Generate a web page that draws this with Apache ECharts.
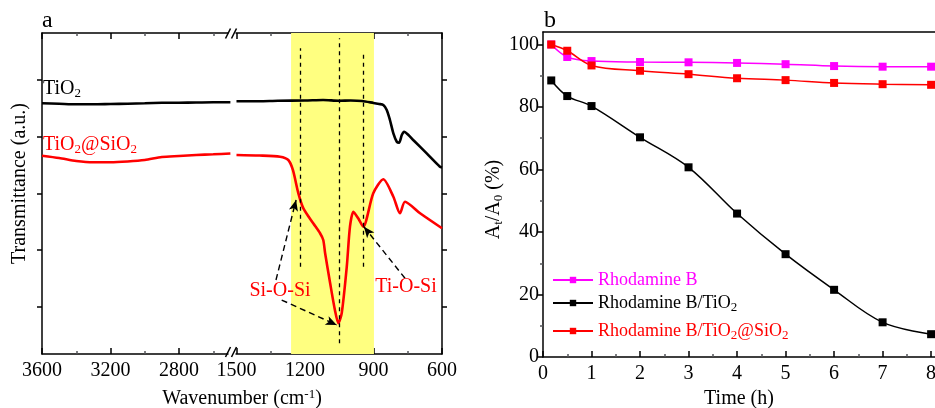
<!DOCTYPE html>
<html>
<head>
<meta charset="utf-8">
<script src="https://cdn.jsdelivr.net/npm/echarts@6/dist/echarts.min.js"></script>
<style>
    html, body {margin: 0; padding: 0; background: #fff;}
    #chart {width: 935px; height: 408px;}
</style>
</head>
<body>
<div id="chart"></div>
<script>
// ---- panel a: FTIR spectra (transmittance in a.u., one unit = one y tick) ----
var tio2WnLeft = [3600, 3500, 3400, 3300, 3200, 3100, 3000, 2900, 2800, 2700, 2600, 2500];
var tio2TLeft = [3.587, 3.579, 3.570, 3.570, 3.575, 3.579, 3.587, 3.596, 3.598, 3.601, 3.605, 3.605];
var tio2WnRight = [1500, 1400, 1318, 1200, 1121, 1050, 1000, 950, 900, 875, 857, 842, 828, 813, 798, 788, 776, 766, 747, 726, 667, 609, 600];
var tio2TRight = [3.623, 3.624, 3.633, 3.637, 3.646, 3.633, 3.637, 3.628, 3.593, 3.575, 3.557, 3.469, 3.293, 3.058, 2.910, 2.892, 3.028, 3.086, 3.028, 2.940, 2.705, 2.469, 2.455];

var tsWnLeft = [3600, 3500, 3400, 3300, 3200, 3100, 3000, 2900, 2800, 2700, 2600, 2500];
var tsTLeft = [2.663, 2.623, 2.570, 2.547, 2.547, 2.561, 2.587, 2.640, 2.658, 2.676, 2.688, 2.702];
var tsWnRight = [1500, 1400, 1309, 1273, 1253, 1229, 1207, 1164, 1134, 1120, 1112, 1090, 1069, 1054, 1039, 1017, 1003, 988, 967, 945, 901, 857, 813, 784, 762, 696, 600];
var tsTRight = [2.676, 2.667, 2.646, 2.587, 2.411, 2.0, 1.735, 1.471, 1.295, 1.176, 0.947, 0.418, -0.058, -0.293, -0.111, 0.705, 1.411, 1.675, 1.559, 1.411, 2.0, 2.247, 1.940, 1.647, 1.852, 1.647, 1.383];

var wnMajor = [3600, 3200, 2800, 1500, 1200, 900, 600];
var wnMinor = [3400, 3000, 2600, 1350, 1050, 750];
var bandWn = [1261, 898];
var dashWn = [1219, 1050, 945];
var dashTop = [4.557, 4.733, 4.515];
var dashBottom = [0.705, -0.645, 0.705];
// arrows: [startWn, startT, endWn, endT]
var arrows = [
    [1327, 0.471, 1239, 1.882],
    [1302, 0.118, 1061, -0.322],
    [762, 0.501, 942, 1.411]
];

// ---- panel b: photodegradation ----
var times = [0.17, 0.5, 1, 2, 3, 4, 5, 6, 7, 8];
var rhB = [100, 96.0, 94.7, 94.4, 94.3, 94.1, 93.7, 93.1, 92.9, 92.9];
var rhBTiO2 = [88.5, 83.5, 80.3, 70.3, 60.7, 45.9, 32.9, 21.5, 11.1, 7.3];
var rhBTiO2SiO2 = [100, 98.0, 93.3, 91.6, 90.5, 89.2, 88.6, 87.7, 87.3, 87.1];
var timeTicks = [0, 1, 2, 3, 4, 5, 6, 7, 8];
var timeMinor = [0.5, 1.5, 2.5, 3.5, 4.5, 5.5, 6.5, 7.5];
var pctTicks = [0, 20, 40, 60, 80, 100];
var pctMinor = [10, 30, 50, 70, 90];

var FONT = 'Liberation Serif';
var CSSFONT = '"Liberation Serif", serif';

// broken wavenumber axis: 3600-2500 at 400/major, 1500-600 at 300/major
var RIGHT_START = 2.839;
function pos(wn) {
    return wn >= 2500 ? (3600 - wn) / 400 : RIGHT_START + (1500 - wn) / 300;
}
function wnOf(u) {
    return u < 2.8 ? 3600 - u * 400 : 1500 - (u - RIGHT_START) * 300;
}
function pairs(xs, ys, fx) {
    return xs.map(function (x, i) { return [fx ? fx(x) : x, ys[i]]; });
}
// 'TiO2' -> rich string with subscript 2
function subText(s) {
    return ('{m|' + s.replace(/O2/g, 'O}{sub|2}{m|') + '}').replace(/\{m\|\}/g, '');
}

var chart = echarts.init(document.getElementById('chart'));

var axisLine = {show: true, onZero: false, lineStyle: {color: '#000', width: 1.5}};
function richFor(color, size) {
    return {
        m: {fontSize: size, fontFamily: FONT, color: color},
        t: {fontSize: size, fontFamily: FONT, color: color},
        sub: {fontSize: 13, fontFamily: FONT, color: color, padding: [9, 0, 0, 0]},
        sup: {fontSize: 13, fontFamily: FONT, color: color, padding: [0, 0, 9, 0]}
    };
}
var labelStyle = {
    margin: 7, fontSize: 20, fontFamily: FONT, color: '#000', rich: richFor('#000', 20)
};

function tickAxis(opt) {
    // helper for mirror / minor tick axes
    return Object.assign({
        type: 'value',
        axisLine: {show: false, onZero: false},
        axisLabel: {show: false},
        splitLine: {show: false}
    }, opt);
}

var xAxes = [
    {
        gridIndex: 0, type: 'value', min: 0, max: pos(600), position: 'bottom',
        axisLine: axisLine,
        axisTick: {inside: true, length: 6, lineStyle: {width: 1.5}, customValues: wnMajor.map(pos)},
        axisLabel: Object.assign({
            customValues: wnMajor.map(pos),
            formatter: function (v) { return '{t|' + Math.round(wnOf(v)) + '}'; }
        }, labelStyle),
        splitLine: {show: false},
        name: '{m|Wavenumber (cm}{sup|-1}{m|)}', nameLocation: 'middle', nameGap: 34,
        nameTextStyle: {fontSize: 20, fontFamily: FONT, color: '#000', rich: richFor('#000', 20)}
    },
    tickAxis({gridIndex: 0, min: 0, max: pos(600), position: 'top', axisLine: axisLine,
        axisTick: {inside: true, length: 6, lineStyle: {width: 1.5}, customValues: wnMajor.map(pos)}}),
    tickAxis({gridIndex: 0, min: 0, max: pos(600), position: 'bottom',
        axisTick: {inside: true, length: 3, lineStyle: {width: 1.5}, customValues: wnMinor.map(pos)}}),
    tickAxis({gridIndex: 0, min: 0, max: pos(600), position: 'top',
        axisTick: {inside: true, length: 3, lineStyle: {width: 1.5}, customValues: wnMinor.map(pos)}}),
    {
        gridIndex: 1, type: 'value', min: 0, max: 8.08, position: 'bottom',
        axisLine: axisLine,
        axisTick: {inside: true, length: 6, lineStyle: {width: 1.5}, customValues: timeTicks},
        axisLabel: Object.assign({
            customValues: timeTicks,
            formatter: function (v) { return '{t|' + v + '}'; }
        }, labelStyle),
        splitLine: {show: false},
        name: 'Time (h)', nameLocation: 'middle', nameGap: 29,
        nameTextStyle: {fontSize: 20, fontFamily: FONT, color: '#000'}
    },
    tickAxis({gridIndex: 1, min: 0, max: 8.08, position: 'bottom',
        axisTick: {inside: true, length: 3, lineStyle: {width: 1.5}, customValues: timeMinor}}),
    tickAxis({gridIndex: 1, min: 0, max: 8.08, position: 'top', axisLine: axisLine, axisTick: {show: false}})
];

var yAxes = [
    {
        gridIndex: 0, type: 'value', min: -0.834, max: 4.827, position: 'left',
        axisLine: axisLine,
        axisTick: {inside: false, length: 5, lineStyle: {width: 1.5}, customValues: [0, 1, 2, 3, 4]},
        axisLabel: {show: false},
        splitLine: {show: false},
        name: 'Transmittance (a.u.)', nameLocation: 'middle', nameGap: 12, nameRotate: 90,
        nameTextStyle: {fontSize: 20, fontFamily: FONT, color: '#000', padding: [0, 0, 0, 20]}
    },
    tickAxis({gridIndex: 0, min: -0.834, max: 4.827, position: 'right', axisLine: axisLine,
        axisTick: {inside: false, length: 5, lineStyle: {width: 1.5}, customValues: [0, 1, 2, 3, 4]}}),
    {
        gridIndex: 1, type: 'value', min: 0, max: 104, position: 'left',
        axisLine: axisLine,
        axisTick: {inside: false, length: 5, lineStyle: {width: 1.5}, customValues: pctTicks},
        axisLabel: Object.assign({
            customValues: pctTicks,
            formatter: function (v) { return '{t|' + v + '}'; }
        }, labelStyle, {margin: 4}),
        splitLine: {show: false},
        name: '{m|A}{sub|t}{m|/A}{sub|0}{m| (%)}', nameLocation: 'middle', nameGap: 38, nameRotate: 90,
        nameTextStyle: {fontSize: 20, fontFamily: FONT, color: '#000', rich: richFor('#000', 20), padding: [0, 10, 0, 0]}
    },
    tickAxis({gridIndex: 1, min: 0, max: 104, position: 'left',
        axisTick: {inside: false, length: 3, lineStyle: {width: 1.5}, customValues: pctMinor}})
];

function spectrum(name, color, data) {
    return {
        name: name, type: 'line', xAxisIndex: 0, yAxisIndex: 0, z: 3,
        data: data, smooth: 0.25, showSymbol: false, symbol: 'none',
        lineStyle: {color: color, width: 2.6}, silent: true
    };
}

function kinetics(name, color, values) {
    return {
        name: name, type: 'line', xAxisIndex: 4, yAxisIndex: 2, z: 3,
        data: pairs(times, values), smooth: 0.35,
        symbol: 'rect', symbolSize: 8,
        itemStyle: {color: color}, lineStyle: {color: color, width: 1.5}
    };
}

var dashed = {type: [4, 4], color: '#000', width: 1.3};
var legendColors = ['#ff00ff', '#000', '#ff0000'];

var option = {
    animation: false,
    backgroundColor: '#fff',
    textStyle: {fontFamily: FONT},
    grid: [
        {left: 42, width: 400, top: 33, bottom: 54, outerBoundsMode: 'none', containLabel: false},
        {left: 543, right: 0, top: 32, bottom: 51, outerBoundsMode: 'none', containLabel: false}
    ],
    xAxis: xAxes,
    yAxis: yAxes,
    legend: [
        {data: ['Rhodamine B'], left: 547, top: 266},
        {data: ['Rhodamine B/TiO2'], left: 547, top: 289},
        {data: ['Rhodamine B/TiO2@SiO2'], left: 547, top: 317}
    ].map(function (lg, i) {
        return Object.assign(lg, {
            orient: 'horizontal', itemWidth: 40, itemHeight: 8, selectedMode: false,
            textStyle: {fontSize: 18, fontFamily: FONT, color: legendColors[i], rich: richFor(legendColors[i], 18)},
            formatter: subText
        });
    }),
    series: [
        {
            name: 'band', type: 'line', xAxisIndex: 0, yAxisIndex: 0, z: 1, data: [], silent: true,
            markArea: {
                silent: true,
                itemStyle: {color: '#ffff80', opacity: 1},
                data: [[{xAxis: pos(bandWn[0])}, {xAxis: pos(bandWn[1])}]]
            }
        },
        {
            name: 'guides', type: 'line', xAxisIndex: 0, yAxisIndex: 0, z: 2, data: [], silent: true,
            markLine: {
                silent: true, symbol: ['none', 'none'], label: {show: false},
                lineStyle: dashed,
                data: dashWn.map(function (w, i) {
                    return [{coord: [pos(w), dashBottom[i]]}, {coord: [pos(w), dashTop[i]]}];
                })
            }
        },
        {
            name: 'arrows', type: 'line', xAxisIndex: 0, yAxisIndex: 0, z: 4, data: [], silent: true,
            markLine: {
                silent: true, symbol: ['none', 'arrow'], symbolSize: [7, 11], label: {show: false},
                lineStyle: {type: [6, 4], color: '#000', width: 1.4},
                data: arrows.map(function (a) {
                    return [{coord: [pos(a[0]), a[1]]}, {coord: [pos(a[2]), a[3]]}];
                })
            }
        },
        spectrum('TiO2 left', '#000', pairs(tio2WnLeft, tio2TLeft, pos)),
        spectrum('TiO2 right', '#000', pairs(tio2WnRight, tio2TRight, pos)),
        spectrum('TiO2@SiO2 left', '#ff0000', pairs(tsWnLeft, tsTLeft, pos)),
        spectrum('TiO2@SiO2 right', '#ff0000', pairs(tsWnRight, tsTRight, pos)),
        kinetics('Rhodamine B', '#ff00ff', rhB),
        kinetics('Rhodamine B/TiO2', '#000', rhBTiO2),
        kinetics('Rhodamine B/TiO2@SiO2', '#ff0000', rhBTiO2SiO2)
    ],
    graphic: [
        {type: 'text', left: 42, top: 9, z: 100, style: {text: 'a', font: '24px ' + CSSFONT, fill: '#000'}},
        {type: 'text', left: 544, top: 9, z: 100, style: {text: 'b', font: '24px ' + CSSFONT, fill: '#000'}},
        {type: 'text', x: 43, y: 89, z: 100, style: {
            text: subText('TiO2'), font: '20px ' + CSSFONT, fill: '#000', verticalAlign: 'middle', rich: richFor('#000', 20)}},
        {type: 'text', x: 43, y: 145, z: 100, style: {
            text: subText('TiO2@SiO2'), font: '20px ' + CSSFONT, fill: '#ff0000', verticalAlign: 'middle', rich: richFor('#ff0000', 20)}},
        {type: 'text', x: 280, y: 291, z: 100, style: {
            text: 'Si-O-Si', font: '20px ' + CSSFONT, fill: '#ff0000', align: 'center', verticalAlign: 'middle'}},
        {type: 'text', x: 406, y: 287, z: 100, style: {
            text: 'Ti-O-Si', font: '20px ' + CSSFONT, fill: '#ff0000', align: 'center', verticalAlign: 'middle'}},
        // axis break marks
        {type: 'rect', z: 100, shape: {x: 228.5, y: 29, width: 7, height: 8}, style: {fill: '#fff'}},
        {type: 'line', z: 101, shape: {x1: 225.5, y1: 38.5, x2: 230.5, y2: 28.5}, style: {stroke: '#000', lineWidth: 1.5}},
        {type: 'line', z: 101, shape: {x1: 231.5, y1: 38.5, x2: 236.5, y2: 28.5}, style: {stroke: '#000', lineWidth: 1.5}},
        {type: 'rect', z: 100, shape: {x: 228.5, y: 350, width: 7, height: 8}, style: {fill: '#fff'}},
        {type: 'line', z: 101, shape: {x1: 225.5, y1: 357, x2: 230.5, y2: 347}, style: {stroke: '#000', lineWidth: 1.5}},
        {type: 'line', z: 101, shape: {x1: 231.5, y1: 357, x2: 236.5, y2: 347}, style: {stroke: '#000', lineWidth: 1.5}}
    ]
};

chart.setOption(option);
</script>
</body>
</html>
